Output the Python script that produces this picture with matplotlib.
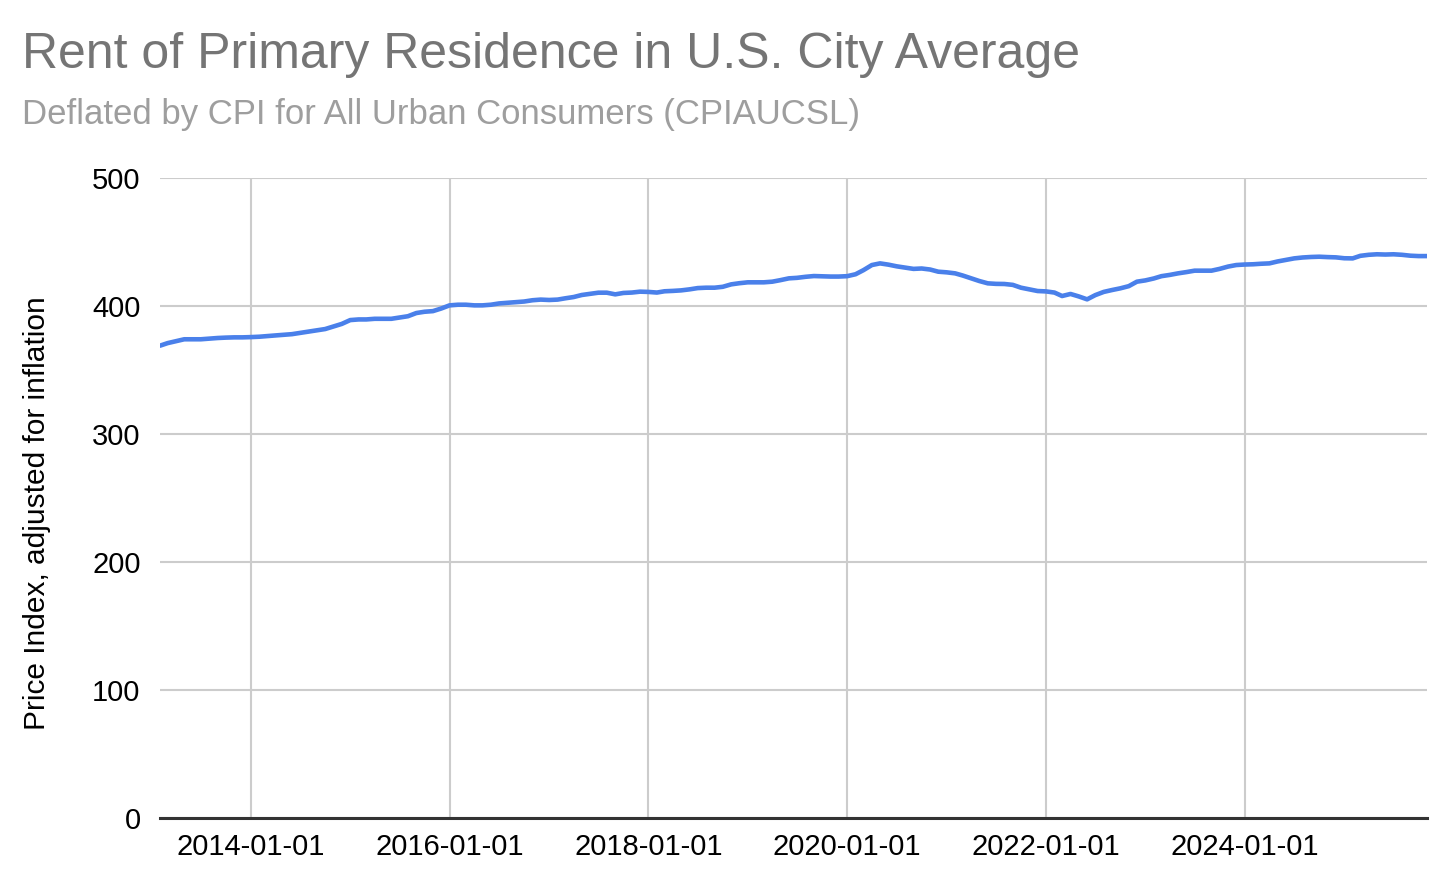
import pandas as pd
import matplotlib
matplotlib.use("Agg")
import matplotlib.pyplot as plt
import matplotlib.dates as mdates

BLUE = "#4a80ea"
GRID = "#cccccc"

# monthly index, rent of primary residence deflated by CPIAUCSL
start_month = "2013-02-01"
rent_real = [
    369.0, 371.0, 372.5, 374.0, 374.0, 374.0, 374.5, 375.0, 375.3, 375.5, 375.5,
    375.7, 376.0, 376.5, 377.0, 377.5, 378.0, 379.0, 380.0, 381.0, 382.0, 384.0, 386.0,
    389.0, 389.5, 389.5, 390.0, 390.0, 390.0, 391.0, 392.0, 394.5, 395.5, 396.0, 398.0,
    400.5, 401.0, 401.0, 400.5, 400.5, 401.0, 402.0, 402.5, 403.0, 403.5, 404.5, 405.0,
    404.7, 405.0, 406.0, 407.0, 408.6, 409.5, 410.4, 410.4, 409.1, 410.2, 410.5, 411.2,
    411.0, 410.5, 411.5, 411.8, 412.2, 413.0, 414.0, 414.3, 414.3, 415.0, 416.9, 417.8,
    418.5, 418.5, 418.5, 419.0, 420.2, 421.6, 422.0, 422.8, 423.4, 423.2, 423.0, 423.0,
    423.3, 424.8, 428.0, 432.0, 433.3, 432.3, 431.0, 430.0, 429.0, 429.3, 428.5, 426.8,
    426.3, 425.5, 423.8, 421.6, 419.5, 417.7, 417.3, 417.2, 416.5, 414.3, 413.0, 411.7,
    411.4, 410.5, 407.8, 409.4, 407.5, 405.2, 408.5, 411.0, 412.5, 413.8, 415.5, 419.0,
    420.0, 421.5, 423.3, 424.3, 425.5, 426.5, 427.6, 427.6, 427.6, 429.0, 430.8, 432.0,
    432.4, 432.6, 433.0, 433.3, 434.8, 436.0, 437.2, 437.9, 438.3, 438.5, 438.2, 438.0,
    437.3, 437.2, 439.2, 440.0, 440.4, 440.2, 440.4, 440.0, 439.3, 439.0, 439.0,
]
dates = pd.date_range(start_month, periods=len(rent_real), freq="MS")

y_ticks = [0, 100, 200, 300, 400, 500]
x_tick_years = [2014, 2016, 2018, 2020, 2022, 2024]

plt.rcParams["font.family"] = ["Liberation Sans", "DejaVu Sans"]

fig = plt.figure(figsize=(14.52, 8.9), dpi=100)
ax = fig.add_axes([160 / 1452, 1 - 818 / 890, (1427 - 160) / 1452, (818 - 178) / 890])

ax.plot(dates, rent_real, color=BLUE, linewidth=3.3, solid_capstyle="round")

ax.set_ylim(0, 500)
ax.set_yticks(y_ticks)
ax.set_xlim(dates[0], dates[-1])
ax.set_xticks([pd.Timestamp(f"{y}-01-01") for y in x_tick_years])
ax.xaxis.set_major_formatter(mdates.DateFormatter("%Y-%m-%d"))

ax.grid(True, color=GRID, linewidth=1.5)
ax.set_axisbelow(True)
for side in ["top", "right", "left"]:
    ax.spines[side].set_visible(False)
ax.spines["bottom"].set_color("#333333")
ax.spines["bottom"].set_linewidth(2.2)
ax.spines["bottom"].set_zorder(3)
ax.tick_params(length=0, labelsize=21, colors="black")
ax.tick_params(axis="y", pad=14)
ax.tick_params(axis="x", pad=11)

ax.set_ylabel("Price Index, adjusted for inflation", fontsize=21.5)
# label sits a little below the middle of the axis in the original
ax.yaxis.set_label_coords(-0.086, 0.477)

fig.text(22 / 1452, 1 - 68 / 890, "Rent of Primary Residence in U.S. City Average",
         fontsize=36, color="#757575", va="baseline")
fig.text(22 / 1452, 1 - 124 / 890, "Deflated by CPI for All Urban Consumers (CPIAUCSL)",
         fontsize=25, color="#9e9e9e", va="baseline")

fig.savefig("out.png", dpi=100)
